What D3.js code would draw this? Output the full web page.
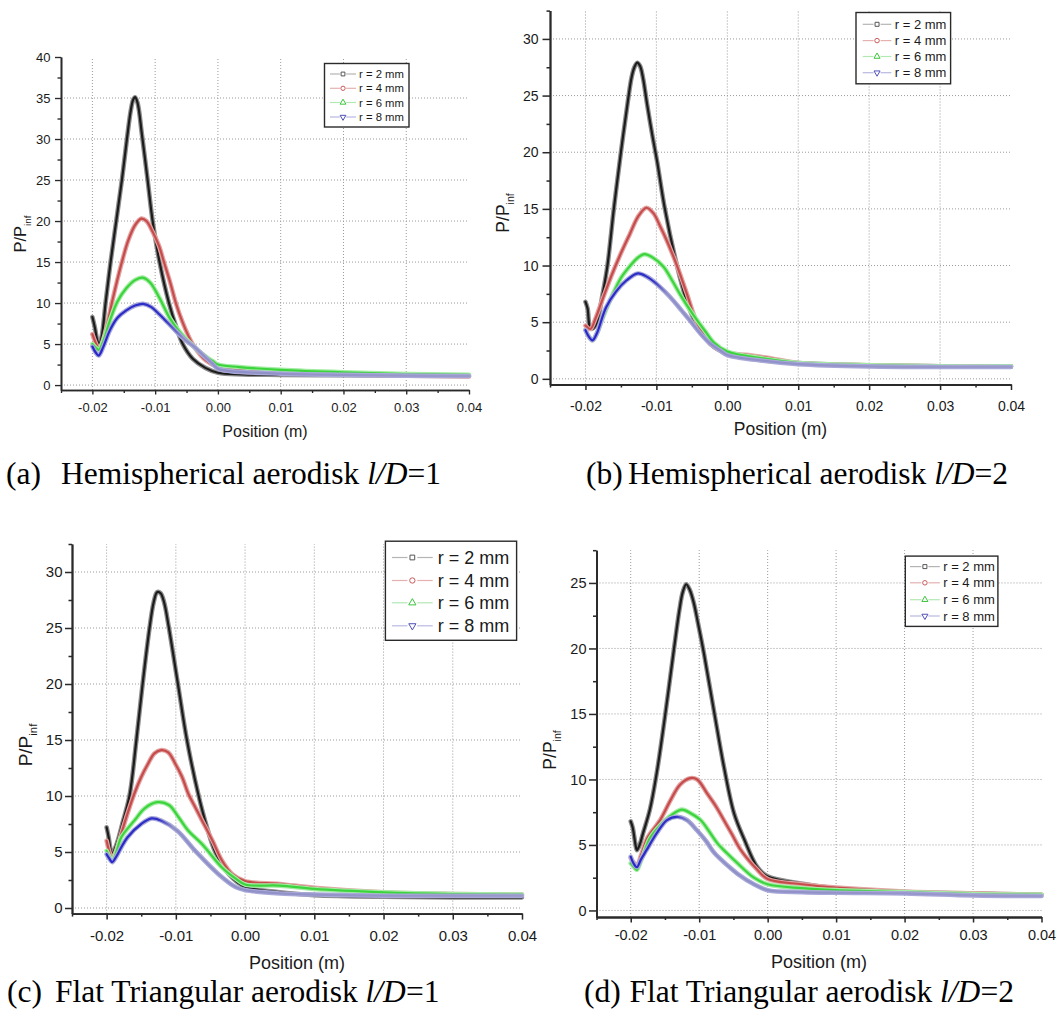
<!DOCTYPE html>
<html>
<head>
<meta charset="utf-8">
<script src="https://cdn.jsdelivr.net/npm/d3@7"></script>
<style>
  html, body { margin: 0; padding: 0; background: #fff; }
  svg { display: block; }
  text { font-family: "Liberation Sans", Arial, sans-serif; fill: #1a1a1a; }
  .cap { font-family: "Liberation Serif", "Times New Roman", serif; fill: #000; }
</style>
</head>
<body>
<svg id="fig" width="1058" height="1011"></svg>
<script>
// Surface pressure ratio P/P_inf against axial position for four aerodisk
// configurations, each with four spike radii. Points are [position (m), P/P_inf].

const seriesLabels = ["r = 2 mm", "r = 4 mm", "r = 6 mm", "r = 8 mm"];
const xTicks = [-0.02, -0.01, 0.00, 0.01, 0.02, 0.03, 0.04];
const xMinorTicks = [-0.025, -0.015, -0.005, 0.005, 0.015, 0.025, 0.035];
const yTicks40 = [0, 5, 10, 15, 20, 25, 30, 35, 40];
const yMinor40 = [2.5, 7.5, 12.5, 17.5, 22.5, 27.5, 32.5, 37.5];
const yTicks30 = [0, 5, 10, 15, 20, 25, 30];
const yMinor30 = [2.5, 7.5, 12.5, 17.5, 22.5, 27.5, 32.5];
const yTicks25 = [0, 5, 10, 15, 20, 25];
const yMinor25 = [2.5, 7.5, 12.5, 17.5, 22.5, 27.5];

// (a) Hemispherical aerodisk, l/D = 1
const hemi1_r2 = [[-0.0200, 8.3], [-0.0196, 7.0], [-0.0192, 5.4], [-0.0189, 5.0], [-0.0185, 6.0], [-0.0179, 10.0], [-0.0171, 15.0], [-0.0162, 20.0], [-0.0153, 25.0], [-0.0145, 30.0], [-0.0139, 33.4], [-0.0135, 34.8], [-0.0132, 35.1], [-0.0128, 34.4], [-0.0121, 30.5], [-0.0112, 25.0], [-0.0104, 20.0], [-0.0093, 15.0], [-0.0078, 10.0], [-0.0066, 7.0], [-0.0056, 5.0], [-0.0040, 3.2], [-0.0020, 2.1], [0.0000, 1.5], [0.0040, 1.3], [0.0100, 1.25], [0.0200, 1.2], [0.0300, 1.15], [0.0400, 1.1]];
const hemi1_r4 = [[-0.0200, 6.2], [-0.0195, 5.2], [-0.0189, 4.4], [-0.0183, 5.5], [-0.0176, 7.5], [-0.0169, 10.0], [-0.0161, 12.6], [-0.0153, 15.0], [-0.0143, 17.6], [-0.0132, 19.5], [-0.0122, 20.3], [-0.0114, 20.0], [-0.0104, 18.7], [-0.0094, 17.0], [-0.0086, 15.0], [-0.0076, 12.5], [-0.0067, 10.0], [-0.0057, 7.8], [-0.0047, 6.0], [-0.0037, 4.6], [-0.0019, 3.0], [0.0000, 2.2], [0.0050, 1.8], [0.0100, 1.55], [0.0200, 1.3], [0.0300, 1.15], [0.0400, 1.05]];
const hemi1_r6 = [[-0.0200, 5.0], [-0.0195, 4.6], [-0.0190, 4.3], [-0.0183, 5.3], [-0.0172, 7.9], [-0.0160, 10.2], [-0.0146, 11.8], [-0.0132, 12.8], [-0.0120, 13.1], [-0.0108, 12.5], [-0.0093, 10.6], [-0.0077, 8.2], [-0.0060, 6.4], [-0.0040, 4.8], [-0.0020, 3.5], [-0.0008, 2.9], [0.0000, 2.5], [0.0034, 2.2], [0.0100, 1.85], [0.0200, 1.55], [0.0300, 1.35], [0.0400, 1.25]];
const hemi1_r8 = [[-0.0200, 4.7], [-0.0195, 4.0], [-0.0190, 3.6], [-0.0183, 4.6], [-0.0172, 6.7], [-0.0160, 8.2], [-0.0146, 9.1], [-0.0132, 9.7], [-0.0119, 9.9], [-0.0106, 9.5], [-0.0093, 8.6], [-0.0080, 7.6], [-0.0066, 6.5], [-0.0052, 5.5], [-0.0040, 4.8], [-0.0020, 3.4], [-0.0010, 2.7], [0.0000, 2.0], [0.0020, 1.7], [0.0100, 1.4], [0.0200, 1.25], [0.0300, 1.15], [0.0400, 1.1]];

// (b) Hemispherical aerodisk, l/D = 2
const hemi2_r2 = [[-0.0200, 6.8], [-0.0197, 6.2], [-0.0194, 4.6], [-0.0191, 4.4], [-0.0187, 4.6], [-0.0183, 5.2], [-0.0176, 7.4], [-0.0169, 10.0], [-0.0160, 15.0], [-0.0150, 20.0], [-0.0140, 24.6], [-0.0135, 26.6], [-0.0131, 27.5], [-0.0127, 27.9], [-0.0123, 27.6], [-0.0119, 26.6], [-0.0113, 24.2], [-0.0106, 21.6], [-0.0099, 19.2], [-0.0088, 15.0], [-0.0071, 10.0], [-0.0058, 7.0], [-0.0045, 5.0], [-0.0024, 3.1], [0.0000, 2.2], [0.0030, 1.8], [0.0100, 1.4], [0.0200, 1.2], [0.0300, 1.1], [0.0400, 1.1]];
const hemi2_r4 = [[-0.0200, 4.7], [-0.0193, 4.4], [-0.0186, 5.3], [-0.0176, 7.0], [-0.0164, 9.0], [-0.0152, 10.8], [-0.0138, 12.7], [-0.0125, 14.4], [-0.0114, 15.1], [-0.0104, 14.6], [-0.0095, 13.5], [-0.0086, 12.3], [-0.0071, 10.0], [-0.0057, 7.5], [-0.0043, 5.0], [-0.0024, 3.1], [0.0000, 2.3], [0.0030, 2.1], [0.0062, 1.8], [0.0100, 1.4], [0.0200, 1.2], [0.0300, 1.1], [0.0400, 1.1]];
const hemi2_r6 = [[-0.0200, 4.3], [-0.0195, 3.7], [-0.0190, 3.4], [-0.0184, 4.0], [-0.0175, 5.5], [-0.0162, 7.4], [-0.0150, 8.9], [-0.0138, 9.9], [-0.0126, 10.7], [-0.0117, 11.0], [-0.0105, 10.7], [-0.0090, 9.9], [-0.0078, 8.7], [-0.0067, 7.5], [-0.0055, 6.3], [-0.0043, 5.2], [-0.0030, 4.1], [-0.0019, 3.2], [0.0000, 2.4], [0.0050, 1.8], [0.0100, 1.4], [0.0200, 1.2], [0.0300, 1.1], [0.0400, 1.1]];
const hemi2_r8 = [[-0.0200, 4.3], [-0.0195, 3.7], [-0.0190, 3.4], [-0.0184, 4.0], [-0.0171, 6.3], [-0.0157, 7.7], [-0.0142, 8.7], [-0.0126, 9.3], [-0.0113, 9.0], [-0.0100, 8.4], [-0.0088, 7.7], [-0.0076, 6.9], [-0.0064, 6.0], [-0.0052, 5.1], [-0.0038, 4.0], [-0.0024, 3.1], [-0.0010, 2.5], [0.0000, 2.1], [0.0050, 1.6], [0.0100, 1.3], [0.0200, 1.1], [0.0300, 1.05], [0.0400, 1.05]];

// (c) Flat triangular aerodisk, l/D = 1
const flat1_r2 = [[-0.0200, 7.2], [-0.0197, 6.3], [-0.0194, 5.1], [-0.0192, 4.8], [-0.0188, 5.3], [-0.0183, 6.2], [-0.0177, 7.6], [-0.0167, 10.0], [-0.0157, 15.0], [-0.0148, 20.0], [-0.0138, 25.0], [-0.0132, 27.3], [-0.0127, 28.2], [-0.0122, 28.1], [-0.0117, 27.3], [-0.0110, 25.0], [-0.0097, 20.0], [-0.0084, 15.0], [-0.0067, 10.0], [-0.0055, 7.2], [-0.0043, 5.0], [-0.0023, 3.0], [0.0000, 1.9], [0.0050, 1.4], [0.0100, 1.15], [0.0200, 1.0], [0.0300, 0.95], [0.0400, 0.95]];
const flat1_r4 = [[-0.0200, 6.0], [-0.0196, 5.0], [-0.0192, 4.4], [-0.0187, 5.0], [-0.0179, 6.6], [-0.0170, 8.4], [-0.0160, 10.2], [-0.0150, 11.7], [-0.0140, 12.9], [-0.0131, 13.8], [-0.0121, 14.1], [-0.0111, 13.9], [-0.0101, 12.9], [-0.0091, 11.7], [-0.0082, 10.2], [-0.0072, 9.0], [-0.0062, 7.8], [-0.0047, 6.0], [-0.0033, 4.2], [-0.0018, 3.0], [0.0000, 2.4], [0.0050, 2.15], [0.0100, 1.8], [0.0200, 1.4], [0.0300, 1.25], [0.0400, 1.2]];
const flat1_r6 = [[-0.0200, 5.1], [-0.0196, 4.6], [-0.0192, 4.2], [-0.0186, 5.0], [-0.0179, 6.3], [-0.0160, 7.8], [-0.0145, 8.9], [-0.0127, 9.45], [-0.0110, 9.2], [-0.0096, 8.1], [-0.0082, 6.9], [-0.0062, 5.7], [-0.0033, 3.6], [-0.0013, 2.6], [0.0000, 2.1], [0.0050, 2.0], [0.0100, 1.7], [0.0200, 1.4], [0.0300, 1.25], [0.0400, 1.2]];
const flat1_r8 = [[-0.0200, 4.8], [-0.0196, 4.4], [-0.0192, 4.1], [-0.0186, 4.6], [-0.0179, 5.4], [-0.0170, 6.3], [-0.0150, 7.5], [-0.0135, 8.0], [-0.0121, 7.8], [-0.0098, 6.9], [-0.0072, 5.1], [-0.0038, 3.0], [-0.0013, 1.85], [0.0000, 1.6], [0.0050, 1.3], [0.0100, 1.2], [0.0200, 1.1], [0.0300, 1.1], [0.0400, 1.1]];

// (d) Flat triangular aerodisk, l/D = 2
const flat2_r2 = [[-0.0200, 6.8], [-0.0197, 6.3], [-0.0193, 5.0], [-0.0191, 4.6], [-0.0187, 5.0], [-0.0182, 5.9], [-0.0172, 7.7], [-0.0162, 10.5], [-0.0150, 14.8], [-0.0137, 19.9], [-0.0129, 22.9], [-0.0124, 24.3], [-0.0119, 24.9], [-0.0114, 24.5], [-0.0108, 23.5], [-0.0102, 22.0], [-0.0093, 19.6], [-0.0078, 15.1], [-0.0064, 11.0], [-0.0049, 7.4], [-0.0034, 5.4], [-0.0015, 3.3], [0.0000, 2.6], [0.0044, 2.1], [0.0100, 1.7], [0.0200, 1.4], [0.0300, 1.3], [0.0400, 1.2]];
const flat2_r4 = [[-0.0200, 4.0], [-0.0195, 3.6], [-0.0191, 3.4], [-0.0185, 4.2], [-0.0175, 5.6], [-0.0157, 6.9], [-0.0142, 8.4], [-0.0128, 9.6], [-0.0113, 10.1], [-0.0103, 10.0], [-0.0088, 8.9], [-0.0075, 7.9], [-0.0064, 6.9], [-0.0052, 5.8], [-0.0039, 4.6], [-0.0015, 3.1], [0.0000, 2.4], [0.0050, 2.0], [0.0100, 1.75], [0.0200, 1.45], [0.0300, 1.3], [0.0400, 1.2]];
const flat2_r6 = [[-0.0200, 3.6], [-0.0195, 3.3], [-0.0191, 3.1], [-0.0185, 3.8], [-0.0172, 5.5], [-0.0157, 6.5], [-0.0140, 7.3], [-0.0125, 7.7], [-0.0112, 7.4], [-0.0098, 6.9], [-0.0085, 6.0], [-0.0073, 5.1], [-0.0060, 4.4], [-0.0044, 3.6], [-0.0020, 2.5], [0.0000, 2.0], [0.0050, 1.7], [0.0100, 1.55], [0.0200, 1.4], [0.0300, 1.25], [0.0400, 1.2]];
const flat2_r8 = [[-0.0200, 4.1], [-0.0196, 3.6], [-0.0191, 3.3], [-0.0185, 3.9], [-0.0177, 4.6], [-0.0162, 5.9], [-0.0147, 6.9], [-0.0132, 7.15], [-0.0118, 6.9], [-0.0103, 6.1], [-0.0090, 5.3], [-0.0078, 4.4], [-0.0060, 3.5], [-0.0044, 2.8], [-0.0020, 2.0], [0.0000, 1.55], [0.0050, 1.4], [0.0100, 1.35], [0.0200, 1.3], [0.0300, 1.15], [0.0400, 1.1]];

// Line styling per radius: dark core over a lighter halo
const seriesStyle = [
  { core: "#1c1c1c", halo: "#8c8c8c", legendLine: "#b4b4b4", mark: "#555", symbol: d3.symbolSquare, rot: 0 },
  { core: "#c64c4c", halo: "#e3a3a3", legendLine: "#e4b0b0", mark: "#c85a5a", symbol: d3.symbolCircle, rot: 0 },
  { core: "#3cd43c", halo: "#a4eca4", legendLine: "#b2e8b2", mark: "#3cc43c", symbol: d3.symbolTriangle, rot: 0 },
  { core: "#2b2bd0", halo: "#a9a9d9", legendLine: "#b8b8e0", mark: "#5050b8", symbol: d3.symbolTriangle, rot: 180 }
];

const panels = [
  { series: [hemi1_r2, hemi1_r4, hemi1_r6, hemi1_r8], left: 61, right: 469, top: 57, bottom: 390,
    yMin: -0.6, yMax: 40, yTicks: yTicks40, yMinor: yMinor40,
    tickFont: 13, xTick: 4.5, yTick: 6, xPad: 7.8, yPad: 4.5, axisW: 1.6,
    titleFont: 16, titleX: 265, titleY: 437, ylabX: 20.5, ylabY: 234, ylabFont: 16.5,
    blueFade: [-0.0085, -0.0055],
    legend: { x0: 324.5, y0: 63.5, x1: 409, y1: 127, rows: [74, 88.3, 102.5, 117], s0: 330, s1: 356, tx: 359, font: 11.3, ms: 9 },
    capPrefix: "(a)", capBody: "Hemispherical aerodisk ", capNum: "=1", capX: 6, capBodyX: 61, capY: 484 },
  { series: [hemi2_r2, hemi2_r4, hemi2_r6, hemi2_r8], left: 550, right: 1011, top: 10.6, bottom: 384.5,
    yMin: -0.5, yMax: 32.5, yTicks: yTicks30, yMinor: yMinor30,
    tickFont: 14, xTick: 5.5, yTick: 7.5, xPad: 11, yPad: 4, axisW: 1.8,
    titleFont: 17.5, titleX: 780.5, titleY: 435, ylabX: 503, ylabY: 213, ylabFont: 17.5,
    blueFade: [-0.0105, -0.0085],
    legend: { x0: 856, y0: 12.5, x1: 950.6, y1: 83.8, rows: [24.3, 40.6, 56.5, 72.7], s0: 862.7, s1: 891.4, tx: 894.8, font: 13, ms: 10 },
    capPrefix: "(b)", capBody: "Hemispherical aerodisk ", capNum: "=2", capX: 586, capBodyX: 628, capY: 484 },
  { series: [flat1_r2, flat1_r4, flat1_r6, flat1_r8], left: 72, right: 522, top: 544, bottom: 913.6,
    yMin: -0.5, yMax: 32.5, yTicks: yTicks30, yMinor: yMinor30,
    tickFont: 15, xTick: 6, yTick: 7, xPad: 10.7, yPad: 2.5, axisW: 1.8,
    titleFont: 18, titleX: 297, titleY: 969, ylabX: 25, ylabY: 745, ylabFont: 19,
    blueFade: [-0.0125, -0.0105],
    legend: { x0: 385.4, y0: 541.2, x1: 516.6, y1: 640.3, rows: [557.5, 580.5, 602.8, 625.8], s0: 392, s1: 432.7, tx: 437.8, font: 18, ms: 14 },
    capPrefix: "(c)", capBody: "Flat Triangular aerodisk ", capNum: "=1", capX: 7, capBodyX: 55, capY: 1002 },
  { series: [flat2_r2, flat2_r4, flat2_r6, flat2_r8], left: 596.5, right: 1041.5, top: 550.2, bottom: 917,
    yMin: -0.5, yMax: 27.5, yTicks: yTicks25, yMinor: yMinor25,
    tickFont: 14.5, xTick: 5.5, yTick: 7.5, xPad: 7.2, yPad: 2.5, axisW: 1.8,
    titleFont: 18, titleX: 819, titleY: 968, ylabX: 550, ylabY: 750, ylabFont: 17.5,
    blueFade: [-0.0135, -0.0115],
    legend: { x0: 905.3, y0: 556.1, x1: 997.9, y1: 626.4, rows: [566.6, 582.8, 599.7, 616], s0: 910, s1: 939.8, tx: 943.2, font: 13, ms: 10 },
    capPrefix: "(d)", capBody: "Flat Triangular aerodisk ", capNum: "=2", capX: 584, capBodyX: 629.5, capY: 1002 }
];

const svg = d3.select("#fig");
svg.append("rect").attr("width", 1058).attr("height", 1011).attr("fill", "#fff");
const defs = svg.append("defs");
const fmt = d => d.toFixed(2);

panels.forEach((p, pi) => {
  const g = svg.append("g");
  const x = d3.scaleLinear().domain([-0.025, 0.04]).range([p.left, p.right]);
  const y = d3.scaleLinear().domain([p.yMin, p.yMax]).range([p.bottom, p.top]);

  // dotted grid at the major ticks
  const grid = g.append("g").attr("stroke", "#9a9a9a").attr("stroke-width", 1).attr("stroke-dasharray", "1,2");
  grid.selectAll("line.v").data(xTicks.filter(v => v < 0.039)).join("line").attr("class", "v")
    .attr("x1", d => x(d)).attr("x2", d => x(d)).attr("y1", y(p.yMin)).attr("y2", y(p.yMax));
  grid.selectAll("line.h").data(p.yTicks.filter(v => v < p.yMax - 0.01)).join("line").attr("class", "h")
    .attr("x1", x(-0.025)).attr("x2", x(0.04)).attr("y1", d => y(d)).attr("y2", d => y(d));

  // r = 8 mm curve: saturated blue up to the peak, lavender on the decay
  const gid = "blueFade" + pi;
  const grad = defs.append("linearGradient").attr("id", gid).attr("gradientUnits", "userSpaceOnUse")
    .attr("x1", x(-0.025)).attr("x2", x(0.04)).attr("y1", 0).attr("y2", 0);
  const f0 = (x(p.blueFade[0]) - x(-0.025)) / (x(0.04) - x(-0.025));
  const f1 = (x(p.blueFade[1]) - x(-0.025)) / (x(0.04) - x(-0.025));
  grad.append("stop").attr("offset", 0).attr("stop-color", "#2424cc");
  grad.append("stop").attr("offset", f0).attr("stop-color", "#2f2fc8");
  grad.append("stop").attr("offset", f1).attr("stop-color", "#8e8ec8");
  grad.append("stop").attr("offset", 1).attr("stop-color", "#9a9acb");

  const line = d3.line().x(d => x(d[0])).y(d => y(d[1])).curve(d3.curveCatmullRom.alpha(0.5));
  p.series.forEach((s, i) => {
    const st = seriesStyle[i];
    g.append("path").datum(s).attr("d", line).attr("fill", "none")
      .attr("stroke", st.halo).attr("stroke-width", 4.6).attr("stroke-linejoin", "round").attr("stroke-linecap", "round");
    g.append("path").datum(s).attr("d", line).attr("fill", "none")
      .attr("stroke", i === 3 ? `url(#${gid})` : st.core).attr("stroke-width", 2.2)
      .attr("stroke-linejoin", "round").attr("stroke-linecap", "round");
  });

  // axes
  const axX = g.append("g").attr("transform", `translate(0,${p.bottom})`)
    .call(d3.axisBottom(x).tickValues(xTicks).tickFormat(fmt).tickSize(p.xTick).tickSizeOuter(0).tickPadding(p.xPad));
  const axXm = g.append("g").attr("transform", `translate(0,${p.bottom})`)
    .call(d3.axisBottom(x).tickValues(xMinorTicks).tickFormat("").tickSize(3).tickSizeOuter(0));
  const axY = g.append("g").attr("transform", `translate(${p.left},0)`)
    .call(d3.axisLeft(y).tickValues(p.yTicks).tickFormat(d3.format("d")).tickSize(p.yTick).tickSizeOuter(0).tickPadding(p.yPad));
  const axYm = g.append("g").attr("transform", `translate(${p.left},0)`)
    .call(d3.axisLeft(y).tickValues(p.yMinor).tickFormat("").tickSize(3.5).tickSizeOuter(0));
  [axX, axXm, axY, axYm].forEach(a => {
    a.attr("font-family", "Liberation Sans, Arial, sans-serif").attr("font-size", p.tickFont);
    a.selectAll("path.domain").attr("stroke", "#2a2a2a").attr("stroke-width", p.axisW);
    a.selectAll(".tick line").attr("stroke", "#2a2a2a").attr("stroke-width", p.axisW * 0.85);
    a.selectAll(".tick text").attr("fill", "#1a1a1a");
  });

  // axis titles
  g.append("text").attr("x", p.titleX).attr("y", p.titleY).attr("text-anchor", "middle")
    .attr("font-size", p.titleFont).text("Position (m)");
  const yl = g.append("text")
    .attr("transform", `translate(${p.ylabX + 0.36 * p.ylabFont},${p.ylabY}) rotate(-90)`)
    .attr("text-anchor", "middle").attr("font-size", p.ylabFont);
  yl.append("tspan").text("P/P");
  yl.append("tspan").attr("font-size", p.ylabFont * 0.6).attr("dy", p.ylabFont * 0.28).text("inf");

  // legend
  const L = p.legend;
  const lg = g.append("g");
  lg.append("rect").attr("x", L.x0).attr("y", L.y0).attr("width", L.x1 - L.x0).attr("height", L.y1 - L.y0)
    .attr("fill", "#fff").attr("stroke", "#2a2a2a").attr("stroke-width", 1.4);
  seriesLabels.forEach((lab, i) => {
    const st = seriesStyle[i];
    const cy = L.rows[i];
    const mx = (L.s0 + L.s1) / 2;
    const gap = L.ms * 0.35;
    lg.append("line").attr("x1", L.s0).attr("x2", mx - gap).attr("y1", cy).attr("y2", cy)
      .attr("stroke", st.legendLine).attr("stroke-width", 1.2);
    lg.append("line").attr("x1", mx + gap).attr("x2", L.s1).attr("y1", cy).attr("y2", cy)
      .attr("stroke", st.legendLine).attr("stroke-width", 1.2);
    lg.append("path").attr("d", d3.symbol().type(st.symbol).size(L.ms * 1.6)())
      .attr("transform", `translate(${mx},${cy}) rotate(${st.rot})`)
      .attr("fill", "none").attr("stroke", st.mark).attr("stroke-width", 1);
    lg.append("text").attr("x", L.tx).attr("y", cy + 0.36 * L.font).attr("font-size", L.font).text(lab);
  });

  // caption under the panel
  svg.append("text").attr("class", "cap").attr("x", p.capX).attr("y", p.capY).attr("font-size", 31.5).text(p.capPrefix);
  const cap = svg.append("text").attr("class", "cap").attr("x", p.capBodyX).attr("y", p.capY).attr("font-size", 31.5);
  cap.append("tspan").text(p.capBody);
  cap.append("tspan").attr("font-style", "italic").text("l/D");
  cap.append("tspan").text(p.capNum);
});
</script>
</body>
</html>
